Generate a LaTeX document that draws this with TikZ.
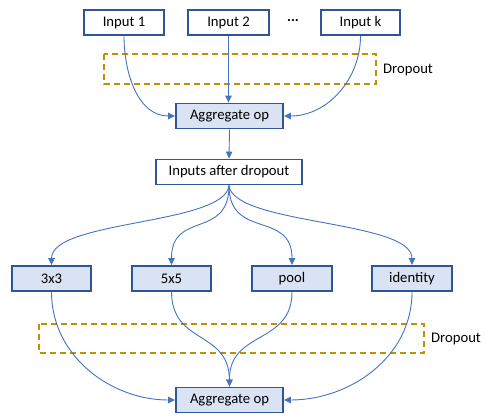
\documentclass[tikz,border=0pt]{standalone}
\usepackage{fontspec}
\setmainfont{Carlito}
\usetikzlibrary{arrows.meta}
\definecolor{boxline}{HTML}{2F5597}
\definecolor{boxfill}{HTML}{DAE3F3}
\definecolor{arrowc}{HTML}{4472C4}
\definecolor{dropc}{HTML}{BF9000}
\begin{document}
\begin{tikzpicture}[x=1pt,y=-1pt,
  plainbox/.style={draw=boxline,line width=1.9pt,fill=white,minimum height=25pt,inner sep=0pt,font=\fontsize{14.67}{17}\selectfont},
  opbox/.style={plainbox,fill=boxfill},
  conn/.style={draw=arrowc,line width=0.9pt,-{Triangle[length=7pt,width=6.5pt]}},
  dropbox/.style={draw=dropc,line width=1.8pt,dash pattern=on 6pt off 4pt},
  lbl/.style={font=\fontsize{14.67}{17}\selectfont,anchor=west,inner sep=0pt}]
\useasboundingbox (0,0) rectangle (495,420);
% top part
\node[plainbox,minimum width=80pt] (in1) at (124,22.5) {Input 1};
\node[plainbox,minimum width=81pt] (in2) at (228.5,22.5) {Input 2};
\node[plainbox,minimum width=79pt] (ink) at (360.5,22.5) {Input k};
\node[font=\fontsize{14.67}{17}\selectfont\bfseries] (dots) at (293,21) {...};
\draw[dropbox] (104,54) rectangle (376,84);
\node[lbl] (d1) at (383,70) {Dropout};
\node[opbox,minimum width=107pt] (agg1) at (229.5,116) {Aggregate op};
\draw[conn] (in1.south) to[out=-90,in=180] (agg1.west);
\draw[conn] (in2.south) -- (in2.south |- agg1.north);
\draw[conn] (ink.south) to[out=-90,in=0] (agg1.east);
% middle
\node[plainbox,minimum width=146pt] (iad) at (229,172) {Inputs after dropout};
\draw[conn] (agg1.south) -- (iad.north);
\node[opbox,minimum width=79pt] (c3) at (51.5,278.5) {3x3};
\node[opbox,minimum width=79pt] (c5) at (171.5,278.5) {5x5};
\node[opbox,minimum width=80pt] (pool) at (292,278.5) {pool};
\node[opbox,minimum width=80pt] (idn) at (412,278.5) {identity};
\draw[conn] (iad.south) .. controls (225,225) and (c3.north |- 0,220) .. (c3.north);
\draw[conn] (iad.south) .. controls (229,240) and (c5.north |- 0,210) .. (c5.north);
\draw[conn] (iad.south) .. controls (229,240) and (pool.north |- 0,210) .. (pool.north);
\draw[conn] (iad.south) .. controls (233,225) and (idn.north |- 0,220) .. (idn.north);
% bottom
\draw[dropbox] (39,324) rectangle (424,353);
\node[lbl] (d2) at (431,339) {Dropout};
\node[opbox,minimum width=107pt] (agg2) at (229.5,400) {Aggregate op};
\draw[conn] (c3.south) to[out=-90,in=180] (agg2.west);
\draw[conn] (c5.south) .. controls (172,345) and (229,330) .. (agg2.north);
\draw[conn] (pool.south) .. controls (292,345) and (229,330) .. (agg2.north);
\draw[conn] (idn.south) to[out=-90,in=0] (agg2.east);
\end{tikzpicture}
\end{document}
